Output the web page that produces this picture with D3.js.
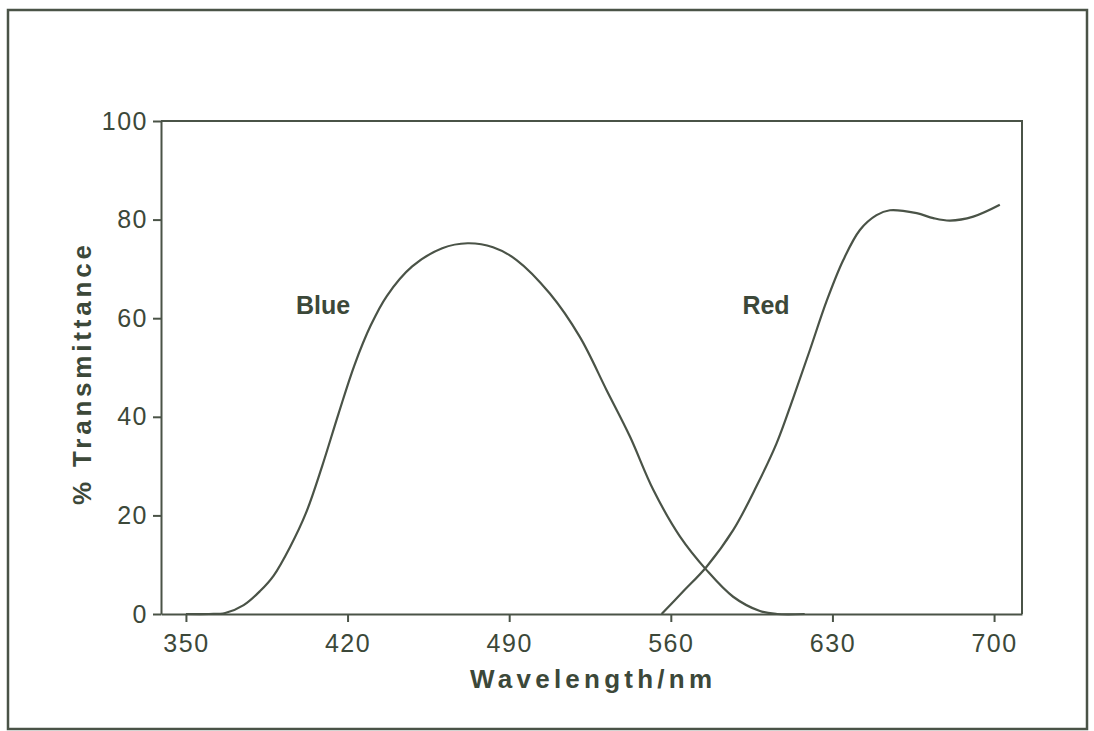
<!DOCTYPE html>
<html>
<head>
<meta charset="utf-8">
<script src="https://cdn.jsdelivr.net/npm/d3@7"></script>
<style>
  body { margin: 0; background: #fff; }
  svg text { font-family: "Liberation Sans", Arial, sans-serif; fill: #3c4839; }
</style>
</head>
<body>
<svg id="chart" width="1094" height="731"></svg>
<script>
// wavelength (nm) / % transmittance
var blueNm = [350, 360, 367, 375, 382, 388, 395, 402, 409, 416, 423, 430, 437, 448, 461, 472, 483, 493.2, 507.6, 520.6, 532.2, 542.3, 552.4, 564, 575.5, 587, 598.6, 606, 618];
var blueT  = [0, 0, 0.2, 1.8, 4.6, 7.8, 13.5, 20.5, 30, 40.5, 50.5, 58.5, 64.5, 70.5, 74.2, 75.2, 74.4, 71.8, 65, 56.2, 45.4, 36, 25.2, 15.7, 8.9, 3.5, 0.6, 0, 0];
var redNm  = [556, 565.4, 575.5, 587, 597.2, 605.8, 613, 620.2, 627.5, 634.7, 641.9, 649.1, 654.9, 666.5, 673.7, 680.9, 691, 702.5];
var redT   = [0, 4.6, 9.6, 17, 26, 34.6, 43.8, 53.5, 63.5, 71.8, 77.9, 80.9, 81.9, 81.3, 80.3, 79.8, 80.6, 83];
var xTicks = [350, 420, 490, 560, 630, 700];
var yTicks = [0, 20, 40, 60, 80, 100];

var ink = "#4a5347";
var svg = d3.select("#chart");

// outer frame of the figure
svg.append("rect")
  .attr("x", 8).attr("y", 10)
  .attr("width", 1079).attr("height", 719)
  .attr("fill", "none").attr("stroke", ink).attr("stroke-width", 2.5);

var x = d3.scaleLinear().domain([339.2, 712.1]).range([161, 1022]);
var y = d3.scaleLinear().domain([0, 100]).range([614, 121]);

// plot box (top + right)
svg.append("path")
  .attr("d", "M" + x.range()[0] + "," + y(100) + "H" + x.range()[1] + "V" + y(0))
  .attr("fill", "none").attr("stroke", ink).attr("stroke-width", 2);

var xAxis = svg.append("g")
  .attr("transform", "translate(0," + y(0) + ")")
  .call(d3.axisBottom(x).tickValues(xTicks).tickSize(8).tickPadding(8).tickSizeOuter(0));
var yAxis = svg.append("g")
  .attr("transform", "translate(" + x.range()[0] + ",0)")
  .call(d3.axisLeft(y).tickValues(yTicks).tickSize(8).tickPadding(3).tickSizeOuter(0));

[xAxis, yAxis].forEach(function(a) {
  a.select(".domain").attr("stroke", ink).attr("stroke-width", 2);
  a.selectAll(".tick line").attr("stroke", ink).attr("stroke-width", 2);
  a.selectAll(".tick text")
    .attr("font-size", 25)
    .attr("letter-spacing", 1.5)
    .attr("fill", "#3c4839");
});
xAxis.selectAll(".tick text").attr("dy", "0.88em");
yAxis.selectAll(".tick text").attr("dx", -2);

var line = d3.line()
  .x(function(d) { return x(d[0]); })
  .y(function(d) { return y(d[1]); })
  .curve(d3.curveCatmullRom.alpha(0.5));

function pairs(xs, ys) {
  return xs.map(function(v, i) { return [v, ys[i]]; });
}

svg.append("path")
  .datum(pairs(blueNm, blueT))
  .attr("d", line)
  .attr("fill", "none").attr("stroke", ink).attr("stroke-width", 2.2);
svg.append("path")
  .datum(pairs(redNm, redT))
  .attr("d", line)
  .attr("fill", "none").attr("stroke", ink).attr("stroke-width", 2.2);

// curve labels
svg.append("text").attr("x", 323).attr("y", 314)
  .attr("text-anchor", "middle").attr("font-size", 25).attr("font-weight", "bold")
  .text("Blue");
svg.append("text").attr("x", 766).attr("y", 314)
  .attr("text-anchor", "middle").attr("font-size", 25).attr("font-weight", "bold")
  .text("Red");

// axis titles
svg.append("text")
  .attr("x", 470).attr("y", 688)
  .attr("font-size", 26).attr("font-weight", "bold")
  .attr("textLength", 242).attr("lengthAdjust", "spacing")
  .text("Wavelength/nm");
svg.append("text")
  .attr("transform", "translate(91,505) rotate(-90)")
  .attr("font-size", 26).attr("font-weight", "bold")
  .attr("textLength", 260).attr("lengthAdjust", "spacing")
  .text("% Transmittance");
</script>
</body>
</html>
